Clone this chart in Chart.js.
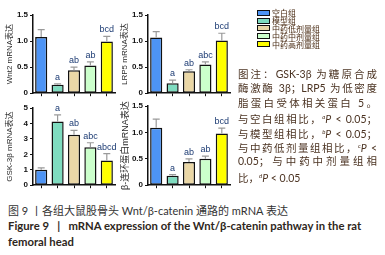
<!DOCTYPE html>
<html>
<head>
<meta charset="utf-8">
<script src="https://cdn.jsdelivr.net/npm/chart.js@4.4.1/dist/chart.umd.min.js"></script>
<style>
  body { margin: 0; background: #fff; }
  #page { position: relative; width: 385px; height: 255px; overflow: hidden; }
  canvas { position: absolute; }
  .legend { position: absolute; left: 257px; top: 9px; font: 8px "Noto Sans CJK SC", sans-serif; color: #4a2c14; }
  .legend div { height: 7.8px; display: flex; align-items: center; white-space: nowrap; overflow: visible; }
  .legend span { display: block; flex: none; width: 11px; height: 4px; border: 1px solid #111; margin-right: 2px; }
  .note { position: absolute; left: 238px; top: 66.5px; width: 139px; font: 10.5px "Lato", "Noto Sans CJK SC", sans-serif; color: #4b3322; }
  .note div { height: 14.6px; line-height: 14.6px; text-align: justify; text-align-last: justify; white-space: nowrap; }
  .note div.last { text-align-last: left; }
  .note sup { font-size: 6px; vertical-align: 4px; font-style: italic; }
  .cap { position: absolute; left: 8px; white-space: nowrap; }
  #cap1 { top: 202px; font: 11px "Lato", "Noto Sans CJK SC", sans-serif; color: #333; }
  #cap2 { top: 219px; font: bold 11.3px "Lato", sans-serif; color: #2e2620; }
  #cap3 { top: 235px; font: bold 11.3px "Lato", sans-serif; color: #2e2620; }
</style>
</head>
<body>
<div id="page">
  <canvas id="c1" width="118" height="100" style="left:0;top:0"></canvas>
  <canvas id="c2" width="118" height="100" style="left:115px;top:0"></canvas>
  <canvas id="c3" width="118" height="97" style="left:0;top:95px"></canvas>
  <canvas id="c4" width="118" height="97" style="left:115px;top:95px"></canvas>
  <div class="legend" id="legend"></div>
  <div class="note">
    <div>图注：GSK-3β 为糖原合成</div>
    <div>酶激酶 3β；LRP5 为低密度</div>
    <div>脂蛋白受体相关蛋白 5。</div>
    <div>与空白组相比，<sup>a</sup><i>P</i> &lt; 0.05；</div>
    <div>与模型组相比，<sup>b</sup><i>P</i> &lt; 0.05；</div>
    <div>与中药低剂量组相比，<sup>c</sup><i>P</i> &lt;</div>
    <div>0.05；与中药中剂量组相</div>
    <div class="last">比，<sup>d</sup><i>P</i> &lt; 0.05</div>
  </div>
  <div class="cap" id="cap1">图 9 丨各组大鼠股骨头 Wnt/β-catenin 通路的 mRNA 表达</div>
  <div class="cap" id="cap2">Figure 9 &nbsp;&nbsp;| &nbsp;&nbsp;mRNA expression of the Wnt/β-catenin pathway in the rat</div>
  <div class="cap" id="cap3">femoral head</div>
</div>
<script>
var groups = ['空白组', '模型组', '中药低剂量组', '中药中剂量组', '中药高剂量组'];
var colors = ['#4d94f5', '#7fdcc0', '#ead7a6', '#ccffcc', '#ffff00'];

var wnt2 = [1.08, 0.16, 0.44, 0.53, 0.99];
var wnt2Err = [1.22, 0.18, 0.50, 0.60, 1.09];
var wnt2Sig = ['', 'a', 'ab', 'ab', 'bcd'];

var lrp5 = [1.07, 0.19, 0.42, 0.55, 1.01];
var lrp5Err = [1.18, 0.25, 0.45, 0.60, 1.15];
var lrp5Sig = ['', 'a', 'ab', 'abc', 'bcd'];

var gsk = [1.0, 4.12, 3.27, 2.46, 1.6];
var gskErr = [1.12, 4.55, 3.55, 2.75, 2.05];
var gskSig = ['', 'a', 'ab', 'abc', 'abcd'];

var ctnnb = [1.09, 0.18, 0.44, 0.50, 0.98];
var ctnnbErr = [1.25, 0.20, 0.50, 0.55, 1.08];
var ctnnbSig = ['', 'a', 'ab', 'ab', 'bcd'];

// legend
var lg = document.getElementById('legend');
groups.forEach(function (g, i) {
  var d = document.createElement('div');
  d.innerHTML = '<span style="background:' + colors[i] + '"></span>' + g;
  lg.appendChild(d);
});

// error bars + letters above each bar
var errPlugin = {
  id: 'errBars',
  afterDatasetsDraw: function (chart) {
    var o = chart.options.plugins.errBars;
    var ys = chart.scales.y;
    var c = chart.ctx;
    chart.getDatasetMeta(0).data.forEach(function (bar, i) {
      var top = ys.getPixelForValue(o.err[i]);
      c.save();
      c.strokeStyle = '#9a9a9a';
      c.lineWidth = 1.2;
      c.beginPath();
      c.moveTo(bar.x, bar.y);
      c.lineTo(bar.x, top);
      c.moveTo(bar.x - 3.5, top);
      c.lineTo(bar.x + 3.5, top);
      c.stroke();
      c.fillStyle = '#1c3b73';
      c.font = '9px "Liberation Sans", sans-serif';
      c.textAlign = 'center';
      c.textBaseline = 'bottom';
      c.fillText(o.sig[i], bar.x, top - 2);
      c.restore();
    });
  }
};

function makeChart(id, vals, err, sig, maxY, step, title, padTop) {
  return new Chart(document.getElementById(id), {
    type: 'bar',
    data: {
      labels: groups,
      datasets: [{
        data: vals,
        backgroundColor: colors,
        borderColor: '#111',
        borderWidth: 1.5,
        borderSkipped: false,
        categoryPercentage: 1,
        barPercentage: 0.74
      }]
    },
    plugins: [errPlugin],
    options: {
      responsive: false,
      animation: false,
      layout: { padding: { top: padTop, right: 3, left: 0, bottom: 0 } },
      plugins: {
        legend: { display: false },
        tooltip: { enabled: false },
        errBars: { err: err, sig: sig }
      },
      scales: {
        x: {
          afterFit: function (s) { s.height = 3; },
          ticks: { display: false },
          grid: { offset: false, drawOnChartArea: false, tickLength: 3, tickColor: '#111', tickWidth: 1 },
          border: { color: '#111', width: 1.5 }
        },
        y: {
          min: 0, max: maxY,
          afterFit: function (s) { s.width = 33; },
          ticks: {
            stepSize: step, padding: 2, color: '#111',
            font: { size: 8, family: 'Liberation Sans', weight: 'bold' },
            callback: function (v) { return step < 1 ? (v === 0 ? '0' : v.toFixed(1)) : v; }
          },
          grid: { drawOnChartArea: false, tickLength: 3, tickColor: '#111', tickWidth: 1 },
          border: { color: '#111', width: 1.5 },
          title: {
            display: true, text: title, color: '#2a2a2a',
            font: { size: id === 'c4' ? 9 : 8, family: 'Liberation Sans, Noto Sans CJK SC' },
            padding: { top: 5, bottom: 0 }
          }
        }
      }
    }
  });
}

makeChart('c1', wnt2, wnt2Err, wnt2Sig, 1.5, 0.5, 'Wnt2 mRNA表达', 15);
makeChart('c2', lrp5, lrp5Err, lrp5Sig, 1.5, 0.5, 'LRP5 mRNA表达', 15);
makeChart('c3', gsk, gskErr, gskSig, 5, 1, 'GSK-3β mRNA表达', 13);
makeChart('c4', ctnnb, ctnnbErr, ctnnbSig, 1.5, 0.5, 'β-连环蛋白mRNA表达', 11);
</script>
</body>
</html>
